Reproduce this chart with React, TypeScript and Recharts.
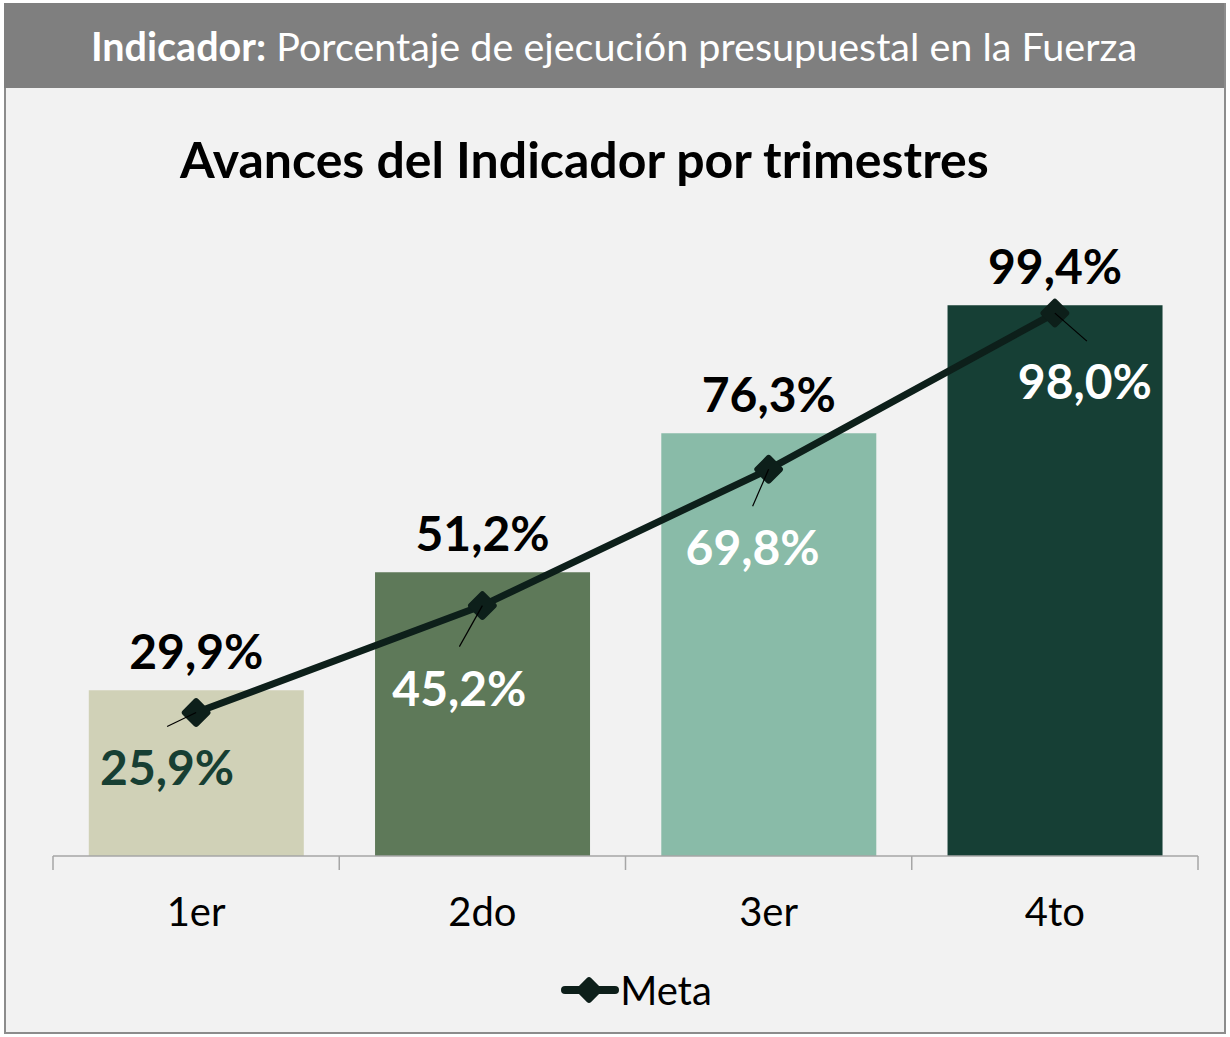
import {
  ComposedChart,
  Bar,
  Line,
  XAxis,
  YAxis,
  Cell,
  LabelList,
  Legend
} from "recharts"

const trimestres = ["1er", "2do", "3er", "4to"]
const avance = [29.9, 51.2, 76.3, 99.4]
const meta = [25.9, 45.2, 69.8, 98.0]
const bordes = [0, 1, 2, 3, 4]

const data = trimestres.map((t, i) => ({ trimestre: t, avance: avance[i], meta: meta[i], borde: i }))

const barColors = ["#d0d1b7", "#5e7959", "#89bba8", "#163f35"]
const metaLabelColors = ["#173f33", "#ffffff", "#ffffff", "#ffffff"]
// label centre and leader end, relative to each marker
const metaLabelNudge = [[-29, 54], [-23, 82], [-16, 77], [30, 67]]
const leaderNudge = [[-29, 14], [-23, 41], [-16, 37], [32, 28]]

const lineColor = "#0d1f1a"
const font = "Lato, 'Open Sans', sans-serif"

const pct = (v: number) => v.toFixed(1).replace(".", ",") + "%"

function MetaDot(props: any) {
  const { cx, cy, index } = props
  if (cx == null || cy == null) return null
  return (
    <rect
      key={"dot" + index}
      x={cx - 11}
      y={cy - 11}
      width={22}
      height={22}
      rx={3}
      fill={lineColor}
      transform={`rotate(45 ${cx} ${cy})`}
    />
  )
}

function MetaLabel(props: any) {
  const { x, y, value, index } = props
  const [dx, dy] = metaLabelNudge[index]
  const [lx, ly] = leaderNudge[index]
  return (
    <g>
      <line x1={x} y1={y} x2={x + lx} y2={y + ly} stroke="#000" strokeWidth={1.2} />
      <text
        x={x + dx}
        y={y + dy}
        textAnchor="middle"
        dominantBaseline="central"
        fontFamily={font}
        fontWeight={700}
        fontSize={48}
        fill={metaLabelColors[index]}
      >
        {pct(value)}
      </text>
    </g>
  )
}

function MetaLegend({ payload }: any) {
  const items = (payload || []).filter((p: any) => p.dataKey === "meta")
  return (
    <div style={{ display: "flex", justifyContent: "center", alignItems: "center", fontFamily: font }}>
      {items.map((p: any) => (
        <div key={p.value} style={{ display: "flex", alignItems: "center" }}>
          <svg width={60} height={34}>
            <line x1={5} y1={17} x2={55} y2={17} stroke={lineColor} strokeWidth={8} strokeLinecap="round" />
            <rect x={19} y={7} width={20} height={20} rx={3} fill={lineColor} transform="rotate(45 29 17)" />
          </svg>
          <span style={{ fontSize: 40, color: "#000" }}>{p.value}</span>
        </div>
      ))}
    </div>
  )
}

export default function App() {
  return (
    <div style={{ position: "absolute", left: 0, top: 0, width: 1230, height: 1037, background: "#fff", fontFamily: font }}>
      <div
        style={{
          position: "absolute",
          left: 4,
          top: 3,
          width: 1218,
          height: 1027,
          background: "#f2f2f2",
          border: "2px solid #8c8c8c"
        }}
      />
      <div
        style={{
          position: "absolute",
          left: 4,
          top: 3,
          width: 1220,
          height: 85,
          background: "#7f7f7f",
          color: "#fff",
          fontSize: 39.5,
          lineHeight: "85px",
          textAlign: "center",
          whiteSpace: "nowrap"
        }}
      >
        <b>Indicador:</b> Porcentaje de ejecución presupuestal en la Fuerza
      </div>
      <div
        style={{
          position: "absolute",
          left: 180,
          top: 127,
          fontSize: 50,
          fontWeight: 700,
          color: "#000",
          whiteSpace: "nowrap",
          lineHeight: "64px"
        }}
      >
        Avances del Indicador por trimestres
      </div>

      <div style={{ position: "absolute", left: 0, top: 0 }}>
        <ComposedChart
          width={1230}
          height={1037}
          data={data}
          margin={{ top: 302, right: 32, bottom: 107, left: 53 }}
          barCategoryGap="12.5%"
        >
          <XAxis
            xAxisId="a_edges"
            type="number"
            dataKey="borde"
            domain={[0, 4]}
            ticks={bordes}
            allowDataOverflow
            height={14}
            tickFormatter={() => ""}
            tickSize={14}
            axisLine={{ stroke: "#a6a6a6", strokeWidth: 1.5 }}
            tickLine={{ stroke: "#a6a6a6", strokeWidth: 1.5 }}
          />
          <XAxis
            xAxisId="b_cat"
            dataKey="trimestre"
            height={60}
            axisLine={false}
            tickLine={false}
            tickSize={0}
            tickMargin={28}
            tick={{ fill: "#000", fontSize: 40, fontFamily: font }}
          />
          <YAxis hide domain={[0, 100]} />
          <Bar dataKey="avance" xAxisId="b_cat" legendType="none" isAnimationActive={false}>
            {data.map((d, i) => (
              <Cell key={d.trimestre} fill={barColors[i]} />
            ))}
            <LabelList
              dataKey="avance"
              position="top"
              offset={21}
              formatter={(v: any) => pct(Number(v))}
              style={{ fontFamily: font, fontWeight: 700, fontSize: 48, fill: "#000" }}
            />
          </Bar>
          <Line
            dataKey="meta"
            xAxisId="b_cat"
            name="Meta"
            stroke={lineColor}
            strokeWidth={7}
            strokeLinejoin="round"
            dot={<MetaDot />}
            activeDot={false}
            isAnimationActive={false}
          >
            <LabelList dataKey="meta" content={<MetaLabel />} />
          </Line>
          <Legend
            layout="vertical"
            align="center"
            verticalAlign="middle"
            wrapperStyle={{ top: 966, left: 21, width: 1230 }}
            content={<MetaLegend />}
          />
        </ComposedChart>
      </div>
    </div>
  )
}
